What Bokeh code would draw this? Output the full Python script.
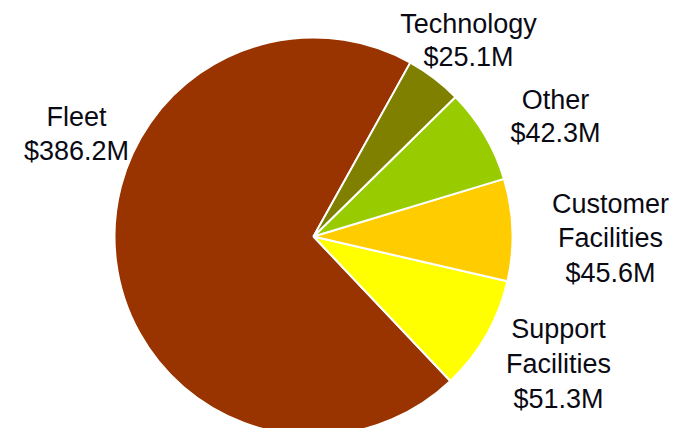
import math
from bokeh.plotting import figure
from bokeh.models import Range1d, ColumnDataSource
from bokeh.core.properties import value
from bokeh.embed import file_html
from bokeh.resources import INLINE

# Data (in $M), counter-clockwise drawing order
categories = ["Fleet", "Support Facilities", "Customer Facilities", "Other", "Technology"]
amounts = [386.2, 51.3, 45.6, 42.3, 25.1]
colors = ["#993300", "#FFFF00", "#FFCC00", "#99CC00", "#808000"]

# label lines for each slice
label_lines = [
    ["Fleet", "$386.2M"],
    ["Support", "Facilities", "$51.3M"],
    ["Customer", "Facilities", "$45.6M"],
    ["Other", "$42.3M"],
    ["Technology", "$25.1M"],
]
for i, (c, a) in enumerate(zip(categories, amounts)):
    label_lines[i][-1] = f"${a}M"

# layout (screen pixels of the page; y measured downward)
W, H = 683, 428
cx, cy, r = 313, 236, 199
start_deg = 60.9
label_anchor = [  # (center x, first baseline y, line step)
    (76, 116, 34.5),
    (558, 328, 35),
    (610, 203, 34.5),
    (555, 99, 33.5),
    (468, 23, 33.5),
]

total = sum(amounts)
starts, ends = [], []
acc = math.radians(start_deg)
for a in amounts:
    starts.append(acc)
    acc += 2 * math.pi * a / total
    ends.append(acc)

src = ColumnDataSource(dict(cat=categories, amt=amounts, start=starts, end=ends, color=colors))

p = figure(width=W, height=H, output_backend="svg", toolbar_location=None,
           x_range=Range1d(0, W), y_range=Range1d(-H, 0),
           min_border=0, outline_line_color=None)
p.axis.visible = False
p.grid.visible = False
p.background_fill_color = "white"
p.border_fill_color = "white"

p.wedge(x=cx, y=-cy, radius=r, radius_units="data", start_angle="start", end_angle="end",
        fill_color="color", line_color="white", line_width=2, source=src)

tx, ty, tt = [], [], []
for lines, (lx, ly, step) in zip(label_lines, label_anchor):
    for j, t in enumerate(lines):
        tx.append(lx)
        ty.append(-(ly + j * step))
        tt.append(t)

p.text(x=tx, y=ty, text=tt, text_align="center", text_baseline="alphabetic",
       text_font=value("Liberation Sans"), text_font_size="27px", text_color="#0a0a14")

open("out.html", "w").write(file_html(p, INLINE))
